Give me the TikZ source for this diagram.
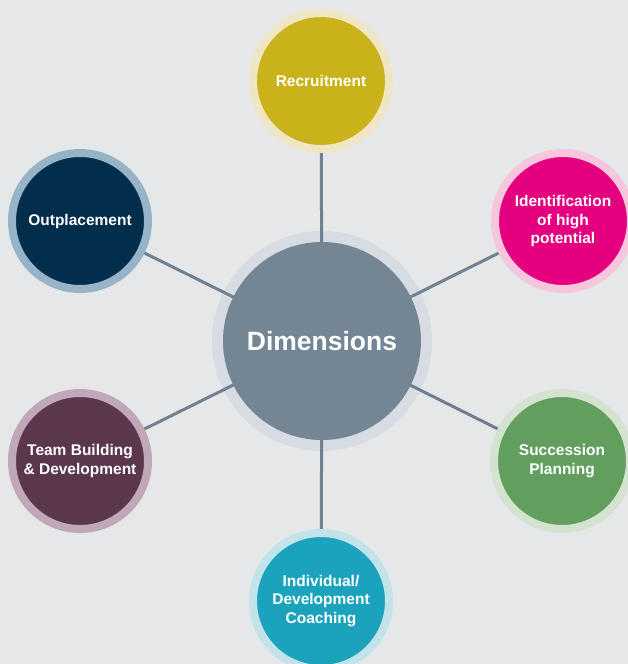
\documentclass[tikz,border=0pt]{standalone}
\usepackage{fontspec}
\setmainfont{Liberation Sans}
\usetikzlibrary{backgrounds}
\definecolor{bgc}{HTML}{E6E7E9}
\definecolor{linec}{HTML}{6F8190}
\definecolor{cenf}{HTML}{748593}\definecolor{cenr}{HTML}{D6DCE1}
\definecolor{recf}{HTML}{C9B21A}\definecolor{recr}{HTML}{F1E6C3}
\definecolor{idef}{HTML}{E4007E}\definecolor{ider}{HTML}{F6C6DD}
\definecolor{sucf}{HTML}{629F5F}\definecolor{sucr}{HTML}{D3E3CF}
\definecolor{indf}{HTML}{1BA3BE}\definecolor{indr}{HTML}{C3E3EA}
\definecolor{teaf}{HTML}{5B374E}\definecolor{tear}{HTML}{C0A8B9}
\definecolor{outf}{HTML}{022D4B}\definecolor{outr}{HTML}{97B3C8}
\tikzset{
  sat/.style={circle, inner sep=0pt, minimum size=136pt, line width=8pt, text=white, align=center,
    font=\fontsize{15.5}{18.5}\selectfont\bfseries},
  hub/.style={circle, inner sep=0pt, minimum size=198pt, text=white, align=center,
    font=\fontsize{26.5}{30}\selectfont\bfseries, fill=cenf},
  spoke/.style={draw=linec, line width=3pt}
}
\begin{document}
\begin{tikzpicture}[x=1pt,y=-1pt]
\useasboundingbox (0,0) rectangle (628,664);
\clip (0,0) rectangle (628,664);
\node[hub] (c) at (322,341) {Dimensions};
\node[sat, fill=recf, draw=recr] (rec) at (321,81) {Recruitment};
\node[sat, fill=idef, draw=ider] (ide) at (563,221) {Identification\\of high\\potential};
\node[sat, fill=sucf, draw=sucr] (suc) at (562,461) {Succession\\Planning};
\node[sat, fill=indf, draw=indr] (ind) at (321,601) {Individual/\\Development\\Coaching};
\node[sat, fill=teaf, draw=tear] (tea) at (80,461) {Team Building\\\& Development};
\node[sat, fill=outf, draw=outr] (out) at (80,221) {Outplacement};
\begin{pgfonlayer}{background}
\fill[bgc] (0,0) rectangle (628,664);
\fill[cenr] (c.center) circle (110pt);
\foreach \n in {rec,ide,suc,ind,tea,out}{
  \draw[spoke] (c.center) -- (\n.center);
}
\end{pgfonlayer}
\end{tikzpicture}
\end{document}
